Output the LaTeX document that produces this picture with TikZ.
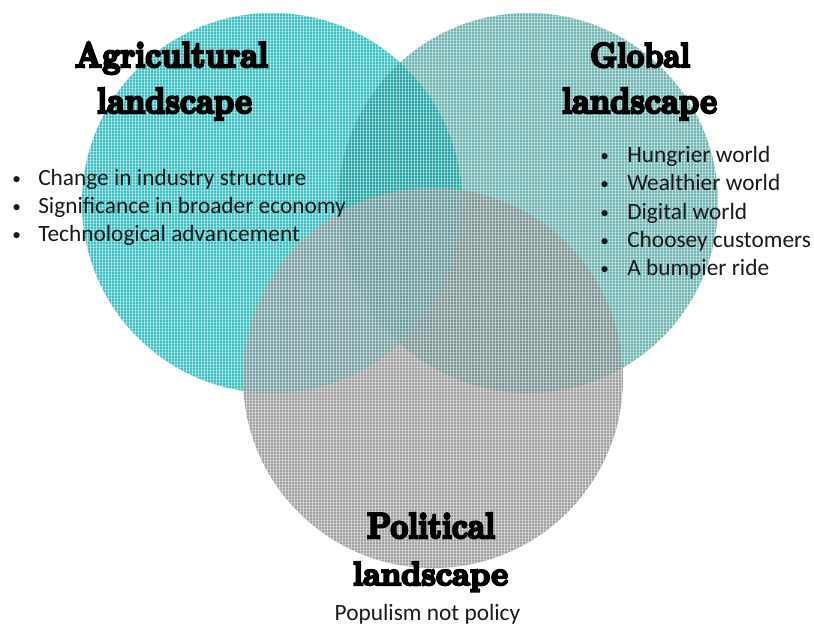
\documentclass[tikz,border=0pt]{standalone}
\usepackage{fontspec}
\usepackage{graphicx}
\setmainfont{Carlito}
\newfontfamily\headfont[FakeBold=7]{lmroman10-bold.otf}
\newlength\pxu
\setlength\pxu{0.75pt}
% heading word stretched to a given width and height (in px units)
\newcommand\headword[3]{\resizebox{#1\pxu}{#2\pxu}{\headfont #3}}
% smaller list bullet
\newcommand\listdot[1]{\makebox[#1\pxu][l]{\raisebox{0.5pt}{\fontsize{13}{13}\selectfont •}}}
\definecolor{tealA}{HTML}{38C0C3}
\definecolor{tealB}{HTML}{6EB4B2}
\definecolor{greyC}{HTML}{A0A0A0}
\definecolor{tealAB}{HTML}{22A3A6}
\definecolor{mixAC}{HTML}{779EA1}
\definecolor{mixBC}{HTML}{7A9494}
\definecolor{mixABC}{HTML}{6A9A9D}
\definecolor{inkC}{HTML}{1A1A1A}
\tikzset{
  vline/.style={white, line width=0.65pt, opacity=0.5},
  hline/.style={white, line width=0.5pt, opacity=0.35},
  itemtext/.style={anchor=base west, inner sep=0pt, text=inkC,
    font=\fontsize{17.5}{21}\selectfont},
  headtext/.style={anchor=base, inner sep=0pt, text=black},
}
% canvas weave drawn over the current clip region
\newcommand\canvasweave{%
  \foreach \gx in {0,3,...,813} {\draw[vline] (\gx,0) -- (\gx,626);}
  \foreach \gy in {1,4,...,625} {\draw[hline] (0,\gy) -- (814,\gy);}
}
\begin{document}
\begin{tikzpicture}[x=0.75pt, y=-0.75pt]
\useasboundingbox (0,0) rectangle (814,626);
\fill[white] (0,0) rectangle (814,626);

% the three circles
\def\circA{(272,203) circle[radius=190]}
\def\circB{(528,203) circle[radius=190]}
\def\circC{(433,378) circle[radius=190]}
\fill[tealA] \circA;
\fill[tealB] \circB;
\fill[greyC] \circC;

% overlaps
\begin{scope}\clip \circA; \fill[tealAB] \circB; \end{scope}
\begin{scope}\clip \circA; \fill[mixAC] \circC; \end{scope}
\begin{scope}\clip \circB; \fill[mixBC] \circC; \end{scope}
\begin{scope}\clip \circA; \clip \circB; \fill[mixABC] \circC; \end{scope}

% canvas texture, each area covered once
\begin{scope}\clip \circA; \canvasweave \end{scope}
\begin{scope}
  \clip \circB;
  \begin{scope}[even odd rule]
    \clip (-5,-5) rectangle (820,630) \circA;
    \canvasweave
  \end{scope}
\end{scope}
\begin{scope}
  \clip \circC;
  \begin{scope}[even odd rule]
    \clip (-5,-5) rectangle (820,630) \circA;
    \clip (-5,-5) rectangle (820,630) \circB;
    \canvasweave
  \end{scope}
\end{scope}

% headings
\node[headtext] (agri1) at (171.5,67) {\headword{193}{25}{Agricultural}};
\node[headtext] (agri2) at (174.5,113) {\headword{155}{25}{landscape}};
\node[headtext] (glob1) at (640,67) {\headword{100}{24}{Global}};
\node[headtext] (glob2) at (639.5,113) {\headword{155}{25}{landscape}};
\node[headtext] (poli1) at (431,538) {\headword{128}{25}{Political}};
\node[headtext] (poli2) at (430.5,585) {\headword{155}{23}{landscape}};

% agricultural points
\node[itemtext] (a1) at (12,185) {\listdot{26}Change in industry structure};
\node[itemtext] (a2) at (12,213) {\listdot{26}Significance in broader economy};
\node[itemtext] (a3) at (12,241) {\listdot{26}Technological advancement};

% global points
\node[itemtext] (g1) at (600,162) {\listdot{27}Hungrier world};
\node[itemtext] (g2) at (600,190) {\listdot{27}Wealthier world};
\node[itemtext] (g3) at (600,219) {\listdot{27}Digital world};
\node[itemtext] (g4) at (600,247) {\listdot{27}Choosey customers};
\node[itemtext] (g5) at (600,275) {\listdot{27}A bumpier ride};

% political point
\node[itemtext, anchor=base] (p1) at (427.5,620) {Populism not policy};
\end{tikzpicture}
\end{document}
